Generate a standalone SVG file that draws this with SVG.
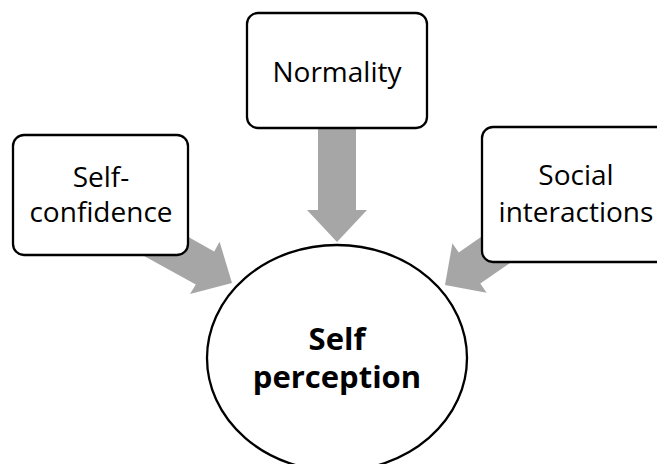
<svg xmlns="http://www.w3.org/2000/svg" width="657" height="464" viewBox="0 0 657 464">
<style>
.box{fill:#fff;stroke:#000;stroke-width:2.3}
.arr{fill:#a6a6a6}
.t{font-family:"Open Sans","Liberation Sans",sans-serif;font-size:28px;fill:#000;text-anchor:middle}
.b{font-family:"Open Sans","Liberation Sans",sans-serif;font-size:31px;font-weight:bold;fill:#000;text-anchor:middle}
</style>
<rect width="657" height="464" fill="#fff"/>
<g id="connectors">
<polygon class="arr" points="126,246 144,212 214.2,251.4 219.6,241.8 232,283 190,294 195.8,284.6"/>
<polygon class="arr" points="318,110 356,110 356,210 367,210 337,242 307,210 318,210"/>
<polygon class="arr" points="546,238 524.5,206.8 458.7,252.4 452.4,243.3 445,285 486.6,292.7 480.3,283.6"/>
</g>
<g id="self-confidence">
<rect class="box" x="13" y="135" width="175" height="120" rx="11"/>
<text class="t" x="101" y="187">Self-</text>
<text class="t" x="101" y="222">confidence</text>
</g>
<g id="normality">
<rect class="box" x="247" y="13" width="180" height="115" rx="11"/>
<text class="t" x="337" y="82">Normality</text>
</g>
<g id="social-interactions">
<rect class="box" x="482" y="127" width="190" height="135" rx="11"/>
<text class="t" x="576" y="185">Social</text>
<text class="t" x="576" y="222">interactions</text>
</g>
<g id="self-perception">
<ellipse class="box" cx="337" cy="358" rx="130" ry="113"/>
<text class="b" x="337" y="350">Self</text>
<text class="b" x="337" y="388">perception</text>
</g>
</svg>
